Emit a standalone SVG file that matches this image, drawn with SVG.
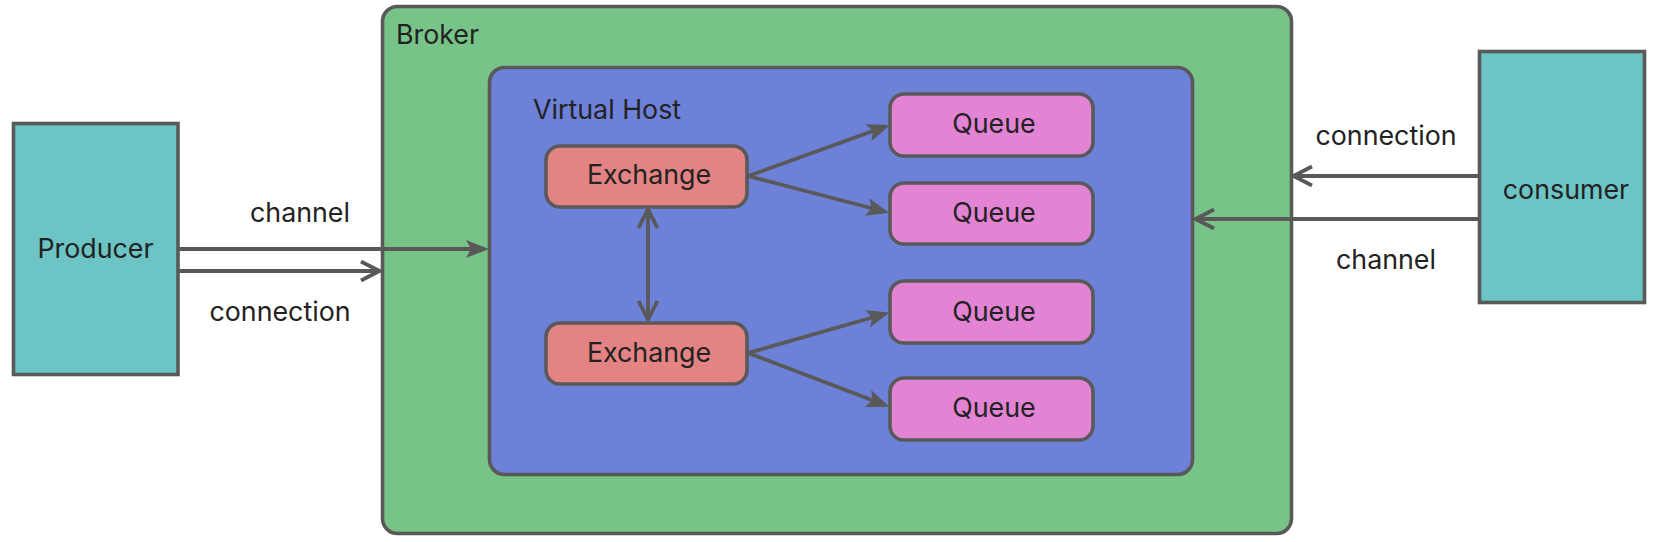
<svg xmlns="http://www.w3.org/2000/svg" width="1662" height="542" viewBox="0 0 1662 542">
<style>
.box{stroke:#595959;stroke-width:3.6}
.ext{fill:#6DC4C4}
.broker{fill:#78C387}
.vh{fill:#6E81D9}
.ex{fill:#E48383}
.q{fill:#E383D3}
text{font-family:Inter,"Liberation Sans",sans-serif;font-size:26.8px;fill:#222}
.c{text-anchor:middle}
.ln{stroke:#595959;stroke-width:3.8;fill:none}
</style>
<defs>
<marker id="tri" markerUnits="userSpaceOnUse" markerWidth="26" markerHeight="20" refX="14" refY="9" orient="auto">
<path d="M0,0 L23,9 L0,18 L5,9 Z" fill="#595959"/>
</marker>
<marker id="chev" markerUnits="userSpaceOnUse" markerWidth="26" markerHeight="26" refX="21" refY="11" orient="auto-start-reverse">
<path d="M2,1.5 L20.5,11 L2,20.5" fill="none" stroke="#595959" stroke-width="3.8"/>
</marker>
</defs>
<g id="broker">
<rect class="box broker" x="382.5" y="6.5" width="909" height="527" rx="15"/>
<text x="396" y="44">Broker</text>
</g>
<g id="virtual-host">
<rect class="box vh" x="489.5" y="67.5" width="703" height="407" rx="15"/>
<text x="533" y="119">Virtual Host</text>
</g>
<g id="producer">
<rect class="box ext" x="13.5" y="123.5" width="164.5" height="251"/>
<text class="c" x="95.5" y="258">Producer</text>
</g>
<g id="consumer">
<rect class="box ext" x="1479.5" y="51.5" width="165" height="251"/>
<text class="c" x="1566" y="199">consumer</text>
</g>
<g id="exchange1">
<rect class="box ex" x="546" y="146" width="201" height="61" rx="14"/>
<text class="c" x="649" y="184">Exchange</text>
</g>
<g id="exchange2">
<rect class="box ex" x="546" y="323" width="201" height="61" rx="14"/>
<text class="c" x="649" y="362">Exchange</text>
</g>
<g id="queue1">
<rect class="box q" x="890" y="94" width="203" height="62" rx="14"/>
<text class="c" x="994" y="133">Queue</text>
</g>
<g id="queue2">
<rect class="box q" x="890" y="183" width="203" height="61" rx="14"/>
<text class="c" x="994" y="222">Queue</text>
</g>
<g id="queue3">
<rect class="box q" x="890" y="281" width="203" height="62" rx="14"/>
<text class="c" x="994" y="321">Queue</text>
</g>
<g id="queue4">
<rect class="box q" x="890" y="378" width="203" height="62" rx="14"/>
<text class="c" x="994" y="417">Queue</text>
</g>
<g id="connectors">
<path class="ln" d="M178,249 H480" marker-end="url(#tri)"/>
<path class="ln" d="M178,271 H380" marker-end="url(#chev)"/>
<path class="ln" d="M1479,176 H1293" marker-end="url(#chev)"/>
<path class="ln" d="M1479,219 H1195" marker-end="url(#chev)"/>
<path class="ln" d="M648,209 V320" marker-start="url(#chev)" marker-end="url(#chev)"/>
<path class="ln" d="M748,176 L881.5,128" marker-end="url(#tri)"/>
<path class="ln" d="M748,176 L880.5,210.5" marker-end="url(#tri)"/>
<path class="ln" d="M748,353 L881,315" marker-end="url(#tri)"/>
<path class="ln" d="M748,353 L881,403.5" marker-end="url(#tri)"/>
<text class="c" x="300" y="222">channel</text>
<text class="c" x="280" y="321">connection</text>
<text class="c" x="1386" y="145">connection</text>
<text class="c" x="1386" y="269">channel</text>
</g>
</svg>
